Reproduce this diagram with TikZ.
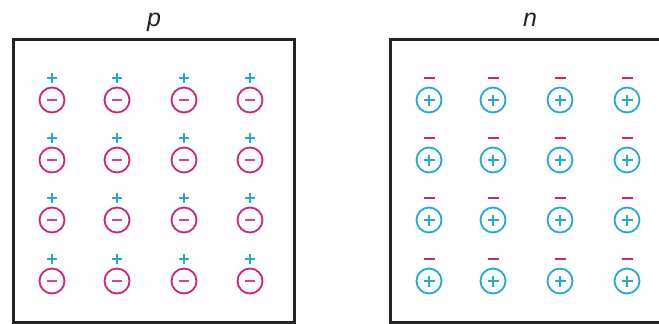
\documentclass[tikz,border=0pt]{standalone}
\usepackage{fontspec}
\setmainfont{Liberation Sans}
\usepackage{tikz}
\usetikzlibrary{positioning}

\definecolor{pcol}{RGB}{205,35,125}
\definecolor{ncol}{RGB}{35,170,210}
\definecolor{frame}{RGB}{35,35,35}

\begin{document}
\begin{tikzpicture}[
        x=1pt, y=-1pt,
        region/.style={draw=frame, line width=3pt},
        title/.style={font=\fontsize{25}{27}\selectfont\itshape, text=frame, anchor=base},
        ion/.style={circle, draw, line width=1.8pt, minimum size=25pt, inner sep=0pt},
        acceptor/.style={ion, draw=pcol, path picture={
            \draw[pcol!85, line width=1.3pt]
                ([xshift=-5pt]path picture bounding box.center) --
                ([xshift=5pt]path picture bounding box.center);}},
        donor/.style={ion, draw=ncol, path picture={
            \draw[ncol, line width=1.3pt]
                ([xshift=-5.5pt]path picture bounding box.center) --
                ([xshift=5.5pt]path picture bounding box.center)
                ([yshift=-5.5pt]path picture bounding box.center) --
                ([yshift=5.5pt]path picture bounding box.center);}},
        hole/.style={minimum size=12pt, inner sep=0pt, path picture={
            \draw[ncol, line width=1.2pt]
                ([xshift=-5pt]path picture bounding box.center) --
                ([xshift=5pt]path picture bounding box.center)
                ([yshift=-5pt]path picture bounding box.center) --
                ([yshift=5pt]path picture bounding box.center);}},
        electron/.style={minimum size=12pt, inner sep=0pt, path picture={
            \draw[pcol, line width=1.2pt]
                ([xshift=-5.5pt]path picture bounding box.center) --
                ([xshift=5.5pt]path picture bounding box.center);}},
    ]

        \useasboundingbox (0,0) rectangle (659,324);

        \def\boxtop{39}
        \def\boxbot{322}

        % p side
        \draw[region] (13,\boxtop) rectangle (294,\boxbot);
        \node[title] (ptitle) at (154,27) {p};

        % n side
        \draw[region] (390,\boxtop) rectangle (672,\boxbot);
        \node[title] (ntitle) at (530,27) {n};

        \foreach \r/\y in {1/100, 2/160, 3/220, 4/281}{
            \foreach \c/\x in {1/52, 2/117, 3/184, 4/250}{
                \node[acceptor] (pa-\r-\c) at (\x,\y) {};
                \node[hole, above=2.5pt of pa-\r-\c] (ph-\r-\c) {};
            }
            \foreach \c/\x in {1/429, 2/493, 3/560, 4/627}{
                \node[donor] (nd-\r-\c) at (\x,\y) {};
                \node[electron, above=2.5pt of nd-\r-\c] (ne-\r-\c) {};
            }
        }

    \end{tikzpicture}
\end{document}
